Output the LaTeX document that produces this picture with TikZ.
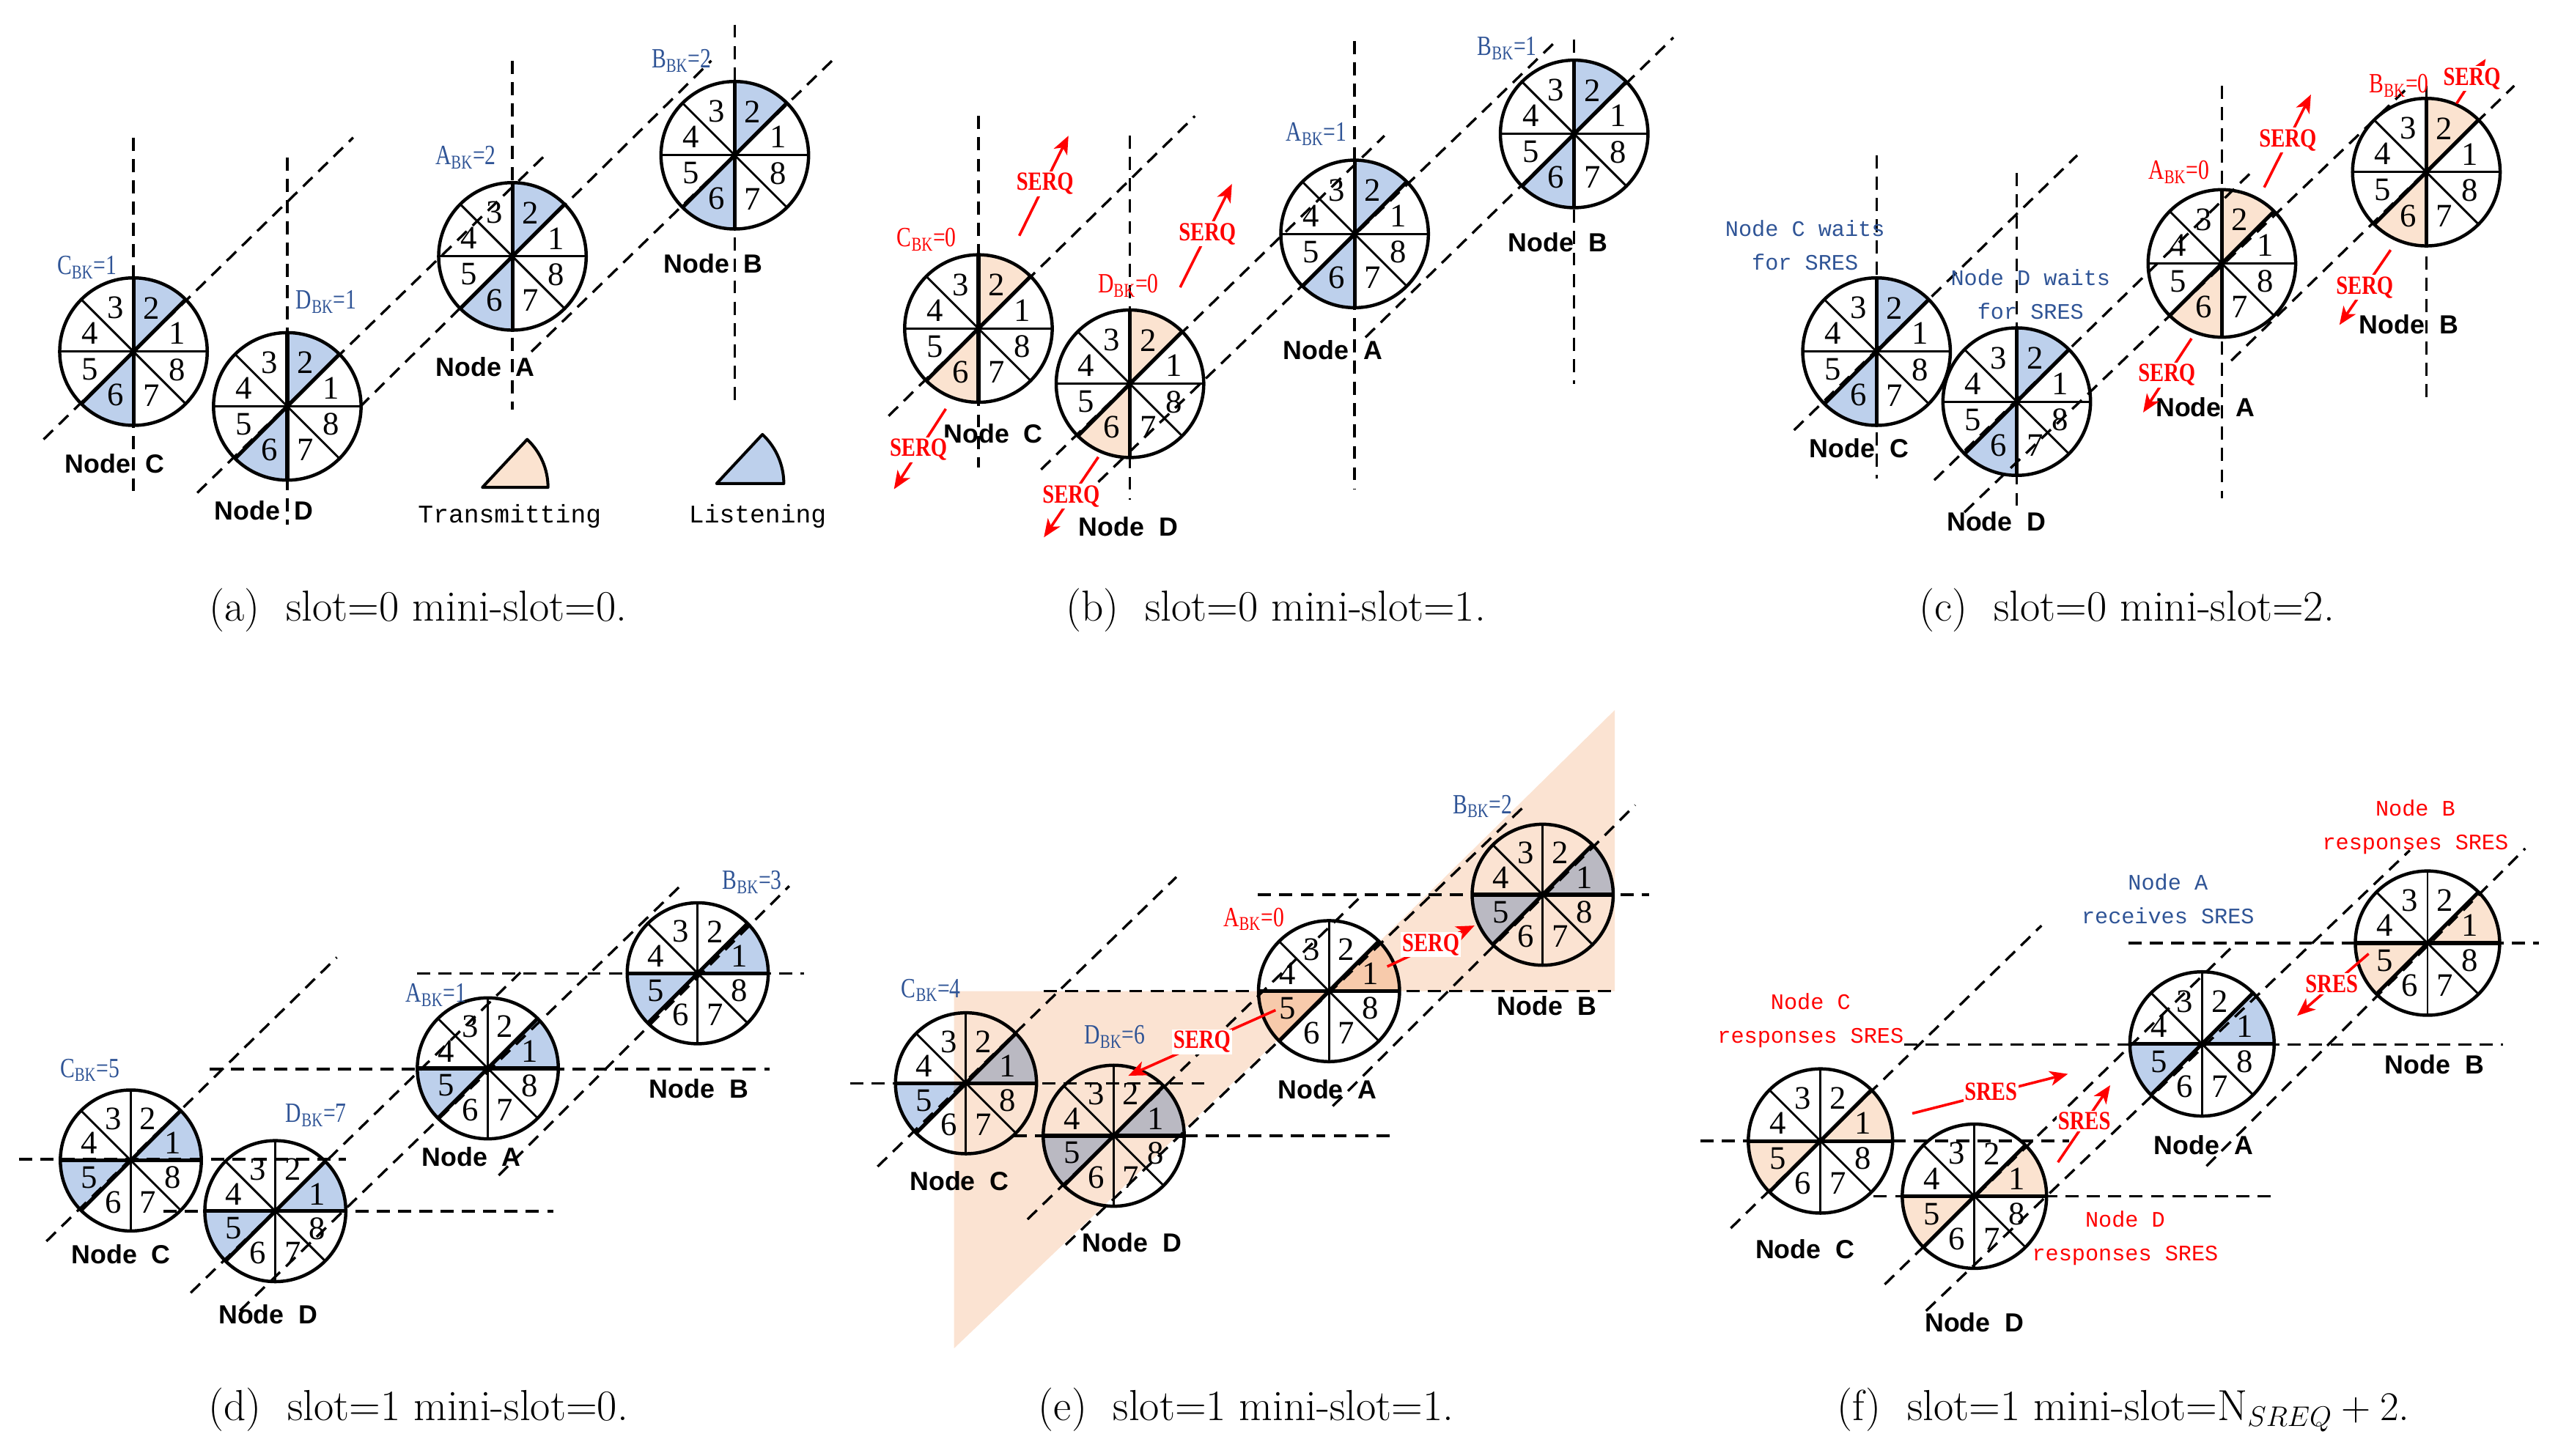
\documentclass[tikz,border=0pt]{standalone}
\usepackage{fontspec}
\setmainfont{Liberation Serif}
\newfontfamily\sansb{Liberation Sans}
\newfontfamily\monof{Liberation Mono}
\newfontfamily\lmr{Latin Modern Roman}
\usetikzlibrary{calc,arrows.meta}
\definecolor{lblue}{HTML}{BDD0EC}
\definecolor{lorg}{HTML}{FBE3D0}
\definecolor{band}{HTML}{FBE3D2}
\definecolor{tblue}{HTML}{2F5496}
\definecolor{tred}{HTML}{FF0000}
\tikzset{
  spoke/.style={line width=1.3pt},
  bspoke/.style={line width=2.3pt},
  rim/.style={line width=2pt},
  digit/.style={font=\fontsize{20}{20}\selectfont, inner sep=0pt},
  dl/.style={line width=1.5pt, dash pattern=on 8pt off 5pt},
  nlab/.style={font=\sansb\bfseries\fontsize{16}{16}\selectfont, inner sep=0pt},
  bk/.style={font=\fontsize{17}{17}\selectfont, inner sep=0pt, xscale=.78, transform shape},
  msg/.style={font=\bfseries\fontsize{16}{16}\selectfont, text=tred, inner sep=1pt, fill=white, xscale=.8, transform shape},
  arr/.style={draw=tred, line width=1.6pt, -{Stealth[length=11pt,width=9pt,inset=3pt]}},
  mono/.style={font=\monof\fontsize{13.5}{20.5}\selectfont, align=center, inner sep=0pt},
  captext/.style={font=\lmr\fontsize{26.5}{27}\selectfont, inner sep=0pt},
}
% #1 name, #2 x, #3 y (down), #4 colour, #5 start angle of shaded pair
\newcommand\wheel[5]{%
  \coordinate (#1) at (#2,-#3);
  \fill[white] (#1) circle[radius=\R];
  \fill[#4] (#1) -- ($(#1)+(#5:\R)$) arc[start angle=#5, end angle=#5+45, radius=\R] -- cycle;
  \fill[#4] (#1) -- ($(#1)+({#5+180}:\R)$) arc[start angle=#5+180, end angle=#5+225, radius=\R] -- cycle;
  \foreach \a in {0,45,90,135} \draw[spoke] ($(#1)+(\a:\R)$) -- ($(#1)+({\a+180}:\R)$);
  \draw[bspoke] ($(#1)+(#5:\R)$) -- ($(#1)+({#5+180}:\R)$);
  \draw[bspoke] ($(#1)+({#5+45}:\R)$) -- ($(#1)+({#5+225}:\R)$);
  \draw[rim] (#1) circle[radius=\R];
  \foreach \k in {1,...,8} \node[digit] (#1-\k) at ($(#1)+({(\k-1)*45+22.5}:{0.64*\R})$) {\k};
}
\newcommand\dl[4]{\draw[dl] (#1,-#2) -- (#3,-#4);}
\newcommand\nl[4]{\node[nlab] (#1) at (#2,-#3) {Node\ \ #4};}
\newcommand\bkl[6]{\node[bk, text=#6] (#1) at (#2,-#3) {#4\textsubscript{BK}=#5};}
\newcommand\msgarrow[9]{% #1 name, start x y, end x y, text x y, text
  \coordinate (#1s) at (#2,-#3); \coordinate (#1e) at (#4,-#5);
  \draw[arr] (#1s) -- (#1e);
  \node[msg] (#1t) at (#6,-#7) {#8};}
\begin{document}
\begin{tikzpicture}[x=1pt,y=1pt]
\useasboundingbox (0,0) rectangle (1560,-888);
% ---------- (a)
\def\R{45pt}
\wheel{aC}{81.4}{214.5}{lblue}{45}
\wheel{aD}{175.2}{247.9}{lblue}{45}
\wheel{aA}{312.5}{156.4}{lblue}{45}
\wheel{aB}{448.1}{94.7}{lblue}{45}
\dl{81.4}{84}{81.4}{299.5}\dl{175.2}{96}{175.2}{320}\dl{312.5}{37}{312.5}{250}\dl{448.1}{15}{448.1}{248}
\dl{26.6}{268}{215.4}{83.9}\dl{120.3}{300.6}{332.4}{94.7}\dl{219.4}{248.3}{433.8}{37}\dl{324.1}{214.5}{508.6}{35.9}
\bkl{abC}{53}{163}{C}{1}{tblue}\bkl{abD}{199}{184}{D}{1}{tblue}\bkl{abA}{284}{96}{A}{2}{tblue}\bkl{abB}{415.5}{37}{B}{2}{tblue}
\nl{anC}{70}{283}{C}\nl{anD}{161}{311.5}{D}\nl{anA}{296}{224}{A}\nl{anB}{435}{161}{B}
\coordinate (lgT) at (294.2,-297.3);
\filldraw[fill=lorg, draw=black, line width=1.8pt, line join=round] (lgT) -- ++(40pt,0) arc[start angle=0, end angle=47, radius=40pt] -- cycle;
\coordinate (lgL) at (437,-295);
\filldraw[fill=lblue, draw=black, line width=1.8pt, line join=round] (lgL) -- ++(41pt,0) arc[start angle=0, end angle=47, radius=41pt] -- cycle;
\node[mono, font=\monof\fontsize{15.5}{16}\selectfont] (lgTt) at (310.8,-314.7) {Transmitting};
\node[mono, font=\monof\fontsize{15.5}{16}\selectfont] (lgLt) at (462,-314.7) {Listening};
% ---------- (b)
\wheel{bC}{596.7}{200.4}{lorg}{45}
\wheel{bD}{689.1}{234.1}{lorg}{45}
\wheel{bA}{826.1}{142.7}{lblue}{45}
\wheel{bB}{960}{81.7}{lblue}{45}
\dl{596.7}{70.8}{596.7}{285.3}\dl{689.1}{82.8}{689.1}{305}\dl{826.1}{25}{826.1}{298.4}\dl{960}{24}{960}{234}
\dl{541.9}{253.7}{728.7}{70.8}\dl{634.9}{286.4}{844.3}{82.8}\dl{669.8}{294}{949}{25}\dl{832.7}{205.8}{1020.5}{22.9}
\bkl{bbC}{565.1}{146}{C}{0}{tred}\bkl{bbD}{688.1}{174.2}{D}{0}{tred}\bkl{bbA}{802.8}{81.7}{A}{1}{tblue}\bkl{bbB}{919.1}{29.4}{B}{1}{tblue}
\nl{bnC}{605.7}{264.6}{C}\nl{bnD}{688.1}{321.3}{D}\nl{bnA}{812.8}{213.4}{A}\nl{bnB}{950}{148}{B}
\msgarrow{bm1}{621.6}{143.8}{651.6}{82.8}{637.3}{112.2}{SERQ}{}
\msgarrow{bm2}{576.8}{249.4}{545.2}{298.4}{560.1}{274.4}{SERQ}{}
\msgarrow{bm3}{719.7}{175.3}{751.3}{112.2}{736.3}{142.7}{SERQ}{}
\msgarrow{bm4}{669.8}{278.8}{636.6}{327.8}{653.2}{302.7}{SERQ}{}
% ---------- (c)
\wheel{cC}{1144.4}{214.5}{lblue}{45}
\wheel{cD}{1229.9}{245}{lblue}{45}
\wheel{cA}{1355}{160.7}{lorg}{45}
\wheel{cB}{1479.7}{105}{lorg}{45}
\dl{1144.4}{94.7}{1144.4}{291.9}\dl{1229.9}{105.6}{1229.9}{310.4}\dl{1355}{52.3}{1355}{303.8}\dl{1479.7}{52.3}{1479.7}{245}
\dl{1094.1}{262.4}{1266.8}{94.7}\dl{1179.6}{292.9}{1372.4}{105.6}\dl{1198}{312.5}{1469.6}{52.3}\dl{1360.7}{220}{1533.3}{52.3}
\node[mono, text=tblue] (cwC) at (1100.8,-149.5) {Node C waits\\for SRES};
\node[mono, text=tblue] (cwD) at (1238.3,-179.7) {Node D waits\\for SRES};
\bkl{cbA}{1328.8}{105}{A}{0}{tred}\bkl{cbB}{1463}{52.3}{B}{0}{tred}
\nl{cnC}{1133.7}{273.3}{C}\nl{cnD}{1217.5}{318}{D}\nl{cnA}{1344.9}{248.3}{A}\nl{cnB}{1469}{197.8}{B}
\msgarrow{cm1}{1380.8}{114.3}{1409.3}{57.7}{1395.2}{85.4}{SERQ}{}
\msgarrow{cm2}{1336.5}{206.5}{1307}{251.6}{1321.4}{228.7}{SERQ}{}
\msgarrow{cm3}{1498.1}{63.2}{1515.9}{35.9}{1507.5}{47.9}{SERQ}{}
\msgarrow{cm4}{1457.9}{152.5}{1426.7}{198.2}{1442.1}{175.3}{SERQ}{}
% ---------- (d)
\def\R{43pt}
\wheel{dC}{79.8}{707.9}{lblue}{0}
\wheel{dD}{167.9}{738.8}{lblue}{0}
\wheel{dA}{297.5}{651.7}{lblue}{0}
\wheel{dB}{425.5}{593.7}{lblue}{0}
\dl{11.6}{707.2}{211}{707.2}\dl{99.7}{738.8}{337.4}{738.8}\dl{128}{652.1}{469.3}{652.1}\dl{254.3}{593.7}{490.3}{593.7}
\dl{28.3}{757.2}{205.4}{584}\dl{116.3}{788.6}{317.4}{593.2}\dl{146.3}{799.6}{414.8}{540.5}\dl{304.1}{717}{481.3}{540.5}
\bkl{dbC}{54.8}{652.8}{C}{5}{tblue}\bkl{dbD}{192.8}{680.3}{D}{7}{tblue}\bkl{dbA}{265.9}{607}{A}{1}{tblue}\bkl{dbB}{458.7}{538.2}{B}{3}{tblue}
\nl{dnC}{73.8}{765.2}{C}\nl{dnD}{163.5}{801.8}{D}\nl{dnA}{287.5}{705.5}{A}\nl{dnB}{426.1}{664.3}{B}
% ---------- (e)
\wheel{eC}{589.1}{660.8}{lblue}{0}
\wheel{eD}{679.2}{692.8}{lblue}{0}
\wheel{eA}{810.5}{604.6}{lorg}{0}
\wheel{eB}{940.8}{545.8}{lblue}{0}
\begin{scope}[blend mode=multiply]
\fill[band] (581.8,-604.6) -- (581.8,-822.5) -- (eA) -- cycle;
\fill[band] (eA) -- (984.8,-604.6) -- (984.8,-433.1) -- cycle;
\end{scope}
\dl{518.6}{660.8}{734.7}{660.8}\dl{618.3}{692.8}{851}{692.8}\dl{636.6}{604.6}{985.6}{604.6}\dl{767.2}{545.8}{1005.6}{545.8}
\dl{535.2}{711.6}{717.4}{535}\dl{626.6}{743.8}{831}{545.8}\dl{649.9}{759.3}{930.8}{490.6}\dl{812.8}{674.7}{997.2}{491.1}
\bkl{ebC}{567.8}{604.1}{C}{4}{tblue}\bkl{ebD}{679.8}{632.4}{D}{6}{tblue}\bkl{ebA}{764.6}{560.7}{A}{0}{tred}\bkl{ebB}{904.2}{491.9}{B}{2}{tblue}
\nl{enC}{585.1}{720.6}{C}\nl{enD}{690.4}{758}{D}\nl{enA}{809.5}{664.4}{A}\nl{enB}{943.4}{613.6}{B}
\msgarrow{em1}{777.9}{616.2}{688.1}{656.2}{733}{635.5}{SERQ}{}
\msgarrow{em2}{846}{589.6}{899.2}{564.6}{872.6}{576.2}{SERQ}{}
% ---------- (f)
\def\R{44pt}
\wheel{fC}{1110.2}{696}{lorg}{0}
\wheel{fD}{1204.1}{729.7}{lorg}{0}
\wheel{fA}{1342.9}{636.8}{lblue}{0}
\wheel{fB}{1480.4}{575.3}{lorg}{0}
\dl{1037}{696}{1261.8}{696}\dl{1142.7}{729.7}{1385.8}{729.7}\dl{1161.2}{637.2}{1526.6}{637.2}\dl{1298}{575.3}{1548.4}{575.3}
\dl{1055.5}{749.2}{1245}{564.6}\dl{1149.4}{783.5}{1364}{574.9}\dl{1174.6}{799.6}{1469.6}{518.7}\dl{1345.6}{711.3}{1540}{517.6}
\node[mono, text=tred] (ftC) at (1104.2,-622.4) {Node C\\responses SRES};
\node[mono, text=tblue] (ftA) at (1322.1,-548.5) {Node A\\receives SRES};
\node[mono, text=tred] (ftB) at (1473,-504.7) {Node B\\responses SRES};
\node[mono, text=tred] (ftD) at (1296,-755.3) {Node D\\responses SRES};
\nl{fnC}{1100.8}{761.8}{C}\nl{fnD}{1204.1}{806.5}{D}\nl{fnA}{1343.9}{698.7}{A}\nl{fnB}{1484.7}{649.4}{B}
\msgarrow{fm1}{1166.2}{679.2}{1261.1}{655.1}{1214.1}{666.1}{SRES}{}
\msgarrow{fm2}{1255}{709}{1286.9}{662}{1271.1}{683.8}{SRES}{}
\msgarrow{fm3}{1444.5}{581.8}{1400.9}{619.6}{1422}{600.1}{SRES}{}
% ---------- captions
\node[captext] (capa) at (255,-372) {(a)\ \ slot=0 mini-slot=0.};
\node[captext] (capb) at (778,-372) {(b)\ \ slot=0 mini-slot=1.};
\node[captext] (capc) at (1297,-372) {(c)\ \ slot=0 mini-slot=2.};
\node[captext] (capd) at (255,-860) {(d)\ \ slot=1 mini-slot=0.};
\node[captext] (cape) at (760,-860) {(e)\ \ slot=1 mini-slot=1.};
\node[captext] (capf) at (1295,-860) {(f)\ \ slot=1 mini-slot=N$_{SREQ}+2$.};
\end{tikzpicture}
\end{document}
